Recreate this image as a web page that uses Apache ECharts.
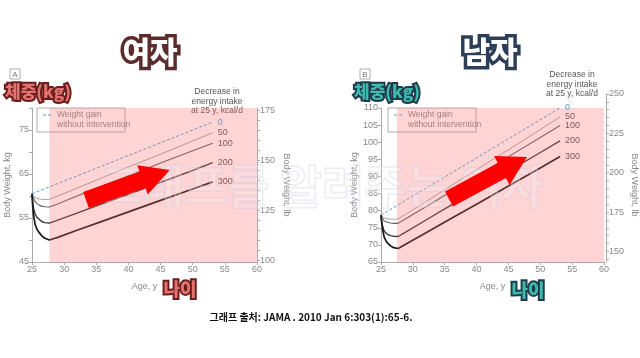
<!DOCTYPE html>
<html><head><meta charset="utf-8">
<script src="https://cdn.jsdelivr.net/npm/echarts@6/dist/echarts.min.js"></script>
<style>html,body{margin:0;padding:0;background:#fff}#c{width:640px;height:358px}</style>
</head><body><div id="c"></div>
<script>
// ---------- data ----------
const ages = [25, 25.1, 25.25, 25.5, 25.75, 26, 26.5, 27, 27.7, 29, 32, 36, 40, 45, 50, 53.1];
const agesNoChange = [25, 53.1];
const kcalLabels = ['0', '50', '100', '200', '300'];

const womenNoChange = [60.5, 76.8];
const women50  = [60.5, 60.2, 59.9, 59.6, 59.45, 59.35, 59.25, 59.2, 59.25, 60.0, 61.8, 64.2, 66.6, 69.5, 72.5, 74.4];
const women100 = [60.5, 60.0, 59.5, 58.7, 58.3, 58.0, 57.7, 57.55, 57.5, 58.2, 60.0, 62.3, 64.6, 67.5, 70.3, 72.0];
const women200 = [60.5, 58.8, 57.2, 55.8, 55.2, 54.8, 54.2, 53.95, 53.85, 54.5, 56.1, 58.3, 60.4, 63.1, 65.8, 67.6];
const women300 = [60.5, 57.8, 55.5, 53.5, 52.5, 51.9, 51.0, 50.4, 50.0, 50.6, 52.2, 54.3, 56.4, 59.0, 61.6, 63.2];

const menNoChange = [78.7, 110];
const men50  = [78.7, 78.45, 78.2, 77.9, 77.75, 77.65, 77.55, 77.5, 77.6, 79.1, 82.6, 87.3, 92.0, 97.8, 103.7, 107.4];
const men100 = [78.7, 78.1, 77.6, 77.0, 76.8, 76.6, 76.4, 76.3, 76.3, 77.8, 81.1, 85.6, 90.1, 95.8, 101.4, 104.9];
const men200 = [78.7, 77.0, 75.5, 74.0, 73.5, 73.1, 72.7, 72.5, 72.45, 73.9, 77.2, 81.6, 86.0, 91.5, 97.0, 100.4];
const men300 = [78.7, 76.6, 74.5, 72.3, 71.3, 70.6, 69.7, 69.2, 68.95, 70.3, 73.5, 77.7, 81.9, 87.2, 92.5, 95.8];

const womenShadeAge = [27.7, 60];
const womenShadeKg = [45, 80];
const menShadeAge = [27.5, 60];
const menShadeKg = [65, 110];

const womenKgLabels = [45, 55, 65, 75];
const womenKgTicks = [45, 50, 55, 60, 65, 70, 75, 80];
const womenLbLabels = [100, 125, 150, 175];
const womenLbTicks = [100, 105, 110, 115, 120, 125, 130, 135, 140, 145, 150, 155, 160, 165, 170, 175];
const menLbLabels = [150, 175, 200, 225, 250];
const menLbTicks = [145, 150, 155, 160, 165, 170, 175, 180, 185, 190, 195, 200, 205, 210, 215, 220, 225, 230, 235, 240, 245, 250];
const menLbMax = 250;
const LB = 2.20462;

// ---------- styles ----------
const FONT = "'Liberation Sans', Arial, sans-serif";
const KFONT = "'Noto Sans CJK KR', sans-serif";
const AX = '#aaa';
const TXT = '#888';
const lineColors = ['#4aa3dc', '#9a9a9a', '#606060', '#383838', '#1a1a1a'];
const lineWidths = [1, 0.9, 1.1, 1.4, 1.7];
const legendName = 'Weight gain without intervention';

function curve(idx, xs, ys, xi, yi) {
  const dashed = idx === 0;
  return {
    type: 'line',
    name: dashed ? legendName : 'k' + kcalLabels[idx] + '_' + xi,
    xAxisIndex: xi, yAxisIndex: yi,
    data: xs.map((x, i) => [x, ys[i]]),
    showSymbol: false, symbol: 'none',
    smooth: false,
    lineStyle: {color: lineColors[idx], width: lineWidths[idx], type: dashed ? [3, 2] : 'solid', join: 'round'},
    itemStyle: {color: lineColors[idx]},
    endLabel: {show: true, formatter: kcalLabels[idx], color: dashed ? '#4aa3dc' : '#555',
      fontSize: 9, fontFamily: FONT, distance: 5},
    z: 2, silent: true
  };
}
function shade(xi, yi, ax, ky) {
  return {
    type: 'line', xAxisIndex: xi, yAxisIndex: yi, data: [], z: 5, silent: true,
    markArea: {silent: true, z: 10, itemStyle: {color: 'rgba(250,100,100,0.28)'},
      data: [[{coord: [ax[0], ky[0]]}, {coord: [ax[1], ky[1]]}]]}
  };
}
function xAx(grid, show) {
  return {
    type: 'value', gridIndex: grid, min: 25, max: 60, interval: 5, show: show,
    axisLine: {lineStyle: {color: AX}}, axisTick: {length: 3, lineStyle: {color: AX}},
    axisLabel: {color: TXT, fontSize: 9, margin: 3, fontFamily: FONT}, splitLine: {show: false},
    name: 'Age, y', nameLocation: 'middle', nameGap: 20,
    nameTextStyle: {color: TXT, fontSize: 9, fontFamily: FONT}
  };
}
function yAx(o) {
  return Object.assign({
    type: 'value', splitLine: {show: false},
    axisLine: {show: true, lineStyle: {color: AX}},
    axisTick: {show: true, length: 3, lineStyle: {color: AX}},
    nameLocation: 'middle', nameTextStyle: {color: TXT, fontSize: 9, fontFamily: FONT}
  }, o);
}
function outlined(text, x, y, size, fill, stroke, lw, z) {
  const font = '900 ' + size + 'px ' + KFONT;
  return [
    {type: 'text', x: x, y: y, z: z, silent: true,
      style: {text: text, font: font, fill: stroke, stroke: stroke, lineWidth: lw, lineJoin: 'round', textAlign: 'center', textVerticalAlign: 'middle'}},
    {type: 'text', x: x, y: y, z: z + 1, silent: true,
      style: {text: text, font: font, fill: fill, textAlign: 'center', textVerticalAlign: 'middle'}}
  ];
}
function arrow(x, y, L, hw, HW, hl, rot) {
  return {type: 'polygon', x: x, y: y, rotation: rot, z: 120, silent: true,
    shape: {points: [[0, -hw], [L - hl, -hw], [L - hl, -HW], [L, 0], [L - hl, HW], [L - hl, hw], [0, hw]]},
    style: {fill: '#ff0000'}};
}
function legendBox(x, y) {
  return [
    {type: 'rect', z: 1, silent: true, shape: {x: x, y: y, width: 88, height: 24}, style: {fill: 'none', stroke: '#999', lineWidth: 0.8}},
    {type: 'line', z: 1, silent: true, shape: {x1: x + 6, y1: y + 7, x2: x + 16, y2: y + 7}, style: {stroke: '#4aa3dc', lineWidth: 1, lineDash: [3, 2]}},
    {type: 'text', z: 1, silent: true, x: x + 20, y: y + 7, style: {text: 'Weight gain', font: '8.5px ' + FONT, fill: '#888', textVerticalAlign: 'middle'}},
    {type: 'text', z: 1, silent: true, x: x + 20, y: y + 16.5, style: {text: 'without intervention', font: '8.5px ' + FONT, fill: '#888', textVerticalAlign: 'middle'}}
  ];
}
function decreaseText(x, y) {
  return {type: 'text', z: 1, silent: true, x: x, y: y,
    style: {text: 'Decrease in\nenergy intake\nat 25 y, kcal/d', font: '8.5px ' + FONT, fill: '#555', textAlign: 'center', lineHeight: 9.5}};
}
function panelBox(x, y, t) {
  return [
    {type: 'rect', z: 1, silent: true, shape: {x: x, y: y, width: 10, height: 10}, style: {fill: '#fff', stroke: '#999', lineWidth: 0.8}},
    {type: 'text', z: 1, silent: true, x: x + 5, y: y + 5.5, style: {text: t, font: '8px ' + FONT, fill: '#777', textAlign: 'center', textVerticalAlign: 'middle'}}
  ];
}

const chart = echarts.init(document.getElementById('c'));
const option = {
  animation: false,
  backgroundColor: '#fff',
  grid: [
    {left: 32, top: 108, width: 225, height: 154},
    {left: 381, top: 108, width: 225, height: 154},
    {left: 381, top: 94, width: 225, height: 168}
  ],
  xAxis: [xAx(0, true), xAx(1, true), Object.assign(xAx(2, false), {name: ''})],
  yAxis: [
    yAx({gridIndex: 0, min: 45, max: 80,
      axisTick: {show: true, length: 3, lineStyle: {color: AX}, customValues: womenKgTicks},
      axisLabel: {customValues: womenKgLabels, color: TXT, fontSize: 9, fontFamily: FONT, margin: 3},
      name: 'Body Weight, kg', nameGap: 20, nameRotate: 90}),
    yAx({gridIndex: 0, position: 'right', min: 45 * LB, max: 80 * LB,
      axisTick: {show: true, length: 3, lineStyle: {color: AX}, customValues: womenLbTicks},
      axisLabel: {customValues: womenLbLabels, color: TXT, fontSize: 9, fontFamily: FONT, margin: 3},
      name: 'Body Weight, lb', nameGap: 25, nameRotate: -90}),
    yAx({gridIndex: 1, min: 65, max: 110, interval: 5,
      axisLabel: {color: TXT, fontSize: 9, fontFamily: FONT, margin: 3},
      name: 'Body Weight, kg', nameGap: 21, nameRotate: 90}),
    yAx({gridIndex: 2, position: 'right', min: 65 * LB, max: menLbMax,
      axisTick: {show: true, length: 3, lineStyle: {color: AX}, customValues: menLbTicks},
      axisLabel: {customValues: menLbLabels, color: TXT, fontSize: 9, fontFamily: FONT, margin: 3},
      name: ''}),
    yAx({gridIndex: 1, position: 'right', min: 65, max: 110,
      axisLine: {show: false}, axisTick: {show: false}, axisLabel: {show: false},
      name: 'Body Weight, lb', nameGap: 26, nameRotate: -90})
  ],
  series: [
    curve(0, agesNoChange, womenNoChange, 0, 0),
    curve(1, ages, women50, 0, 0),
    curve(2, ages, women100, 0, 0),
    curve(3, ages, women200, 0, 0),
    curve(4, ages, women300, 0, 0),
    shade(0, 0, womenShadeAge, womenShadeKg),
    curve(0, agesNoChange, menNoChange, 1, 2),
    curve(1, ages, men50, 1, 2),
    curve(2, ages, men100, 1, 2),
    curve(3, ages, men200, 1, 2),
    curve(4, ages, men300, 1, 2),
    shade(1, 2, menShadeAge, menShadeKg)
  ],
  graphic: [].concat(
    legendBox(37, 108), legendBox(388, 108),
    [decreaseText(217, 87), decreaseText(572, 70)],
    panelBox(10, 69, 'A'), panelBox(360, 69, 'B'),
    [{type: 'text', z: 60, silent: true, x: 322, y: 186,
      style: {text: '그래프를 알려주는 여자', font: 'bold 46px ' + KFONT, fill: 'rgba(255,255,255,0.2)',
        stroke: 'rgba(200,200,225,0.38)', lineWidth: 1.5, textAlign: 'center', textVerticalAlign: 'middle'}}],
    [arrow(86, 200, 89, 8.5, 15.5, 29, 0.343), arrow(449, 199, 88.6, 8.5, 16.4, 28.6, 0.494)],
    outlined('여자', 150, 52, 30, '#ffffff', '#5c2b2b', 7, 130),
    outlined('남자', 490, 52, 30, '#ffffff', '#2d3f57', 7, 130),
    outlined('체중(kg)', 38, 92, 17, '#e27470', '#6b1c1c', 4, 130),
    outlined('체중(kg)', 387, 92, 17, '#3fb8ad', '#1d3b4a', 4, 130),
    outlined('나이', 180, 289, 18, '#e27470', '#6b1c1c', 4, 130),
    outlined('나이', 528, 290, 18, '#3fb8ad', '#1d3b4a', 4, 130),
    [{type: 'text', z: 130, silent: true, x: 311, y: 317,
      style: {text: '그래프 출처: JAMA . 2010 Jan 6:303(1):65-6.', font: 'bold 10px ' + KFONT, fill: '#111',
        textAlign: 'center', textVerticalAlign: 'middle'}}]
  )
};
chart.setOption(option);
</script>
</body></html>
